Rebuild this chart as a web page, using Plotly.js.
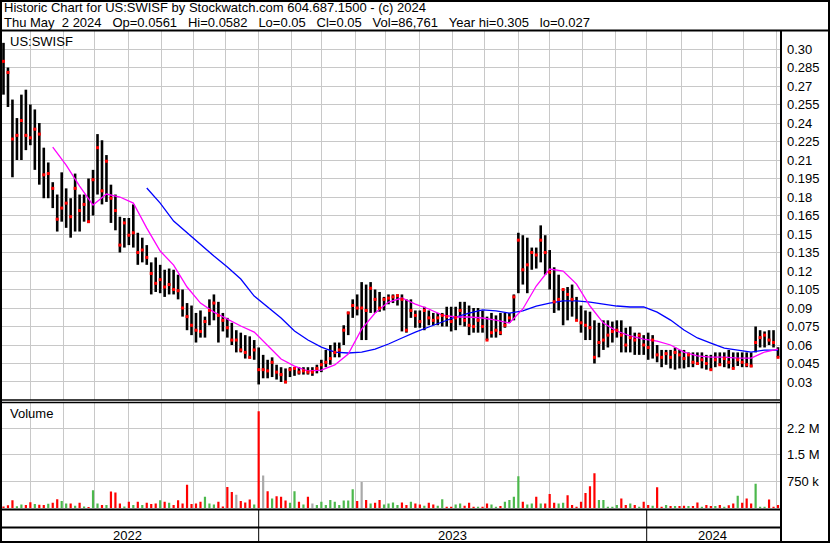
<!DOCTYPE html>
<html>
<head>
<meta charset="utf-8">
<script src="https://cdn.plot.ly/plotly-3.0.1.min.js"></script>
<style>
html,body{margin:0;padding:0;background:#fff;}
#chart{width:830px;height:543px;}
</style>
</head>
<body>
<div id="chart"></div>
<script>
// ---- Data (one bar every 3 trading days, May 6 2022 -> May 2 2024) ----
const firstSession = '2022-05-06';
const sessionStep = 3;

const high = [
0.305,0.285,0.259,0.244,0.263,0.267,0.255,0.251,0.240,0.220,
0.208,0.192,0.182,0.200,0.187,0.179,0.199,0.182,0.182,0.195,
0.202,0.231,0.226,0.214,0.190,0.182,0.164,0.163,0.163,0.174,
0.151,0.147,0.141,0.127,0.131,0.125,0.121,0.122,0.121,0.117,
0.105,0.094,0.092,0.086,0.088,0.083,0.097,0.101,0.095,0.086,
0.082,0.078,0.072,0.070,0.068,0.067,0.064,0.058,0.052,0.048,
0.050,0.044,0.042,0.041,0.042,0.042,0.042,0.042,0.042,0.042,
0.044,0.048,0.056,0.060,0.062,0.062,0.076,0.087,0.097,0.101,
0.111,0.109,0.111,0.105,0.103,0.099,0.101,0.101,0.101,0.101,
0.097,0.097,0.088,0.088,0.091,0.088,0.086,0.086,0.086,0.091,
0.091,0.091,0.095,0.095,0.092,0.090,0.090,0.088,0.083,0.086,
0.084,0.086,0.086,0.086,0.101,0.151,0.149,0.147,0.139,0.139,
0.157,0.149,0.137,0.123,0.117,0.105,0.107,0.109,0.099,0.092,
0.088,0.087,0.080,0.078,0.080,0.080,0.079,0.080,0.080,0.074,
0.075,0.070,0.070,0.068,0.070,0.068,0.060,0.056,0.056,0.056,
0.058,0.056,0.056,0.054,0.054,0.054,0.054,0.052,0.052,0.054,
0.054,0.054,0.056,0.054,0.054,0.054,0.054,0.054,0.075,0.072,
0.071,0.072,0.072,0.0582];

const low = [
0.263,0.253,0.196,0.210,0.210,0.218,0.222,0.202,0.190,0.179,
0.179,0.171,0.152,0.160,0.155,0.147,0.152,0.152,0.160,0.159,
0.165,0.182,0.174,0.176,0.159,0.153,0.135,0.139,0.141,0.139,
0.125,0.127,0.125,0.101,0.103,0.102,0.099,0.101,0.101,0.097,
0.083,0.072,0.068,0.062,0.066,0.066,0.076,0.080,0.062,0.071,
0.066,0.060,0.054,0.054,0.049,0.049,0.048,0.028,0.033,0.033,
0.034,0.032,0.030,0.029,0.034,0.035,0.036,0.036,0.036,0.035,
0.037,0.038,0.042,0.044,0.050,0.050,0.060,0.068,0.082,0.084,
0.064,0.064,0.086,0.086,0.087,0.088,0.093,0.094,0.092,0.071,
0.070,0.082,0.074,0.074,0.072,0.076,0.076,0.076,0.075,0.075,
0.071,0.072,0.076,0.075,0.068,0.070,0.070,0.070,0.064,0.066,
0.066,0.068,0.074,0.078,0.080,0.102,0.109,0.102,0.121,0.122,
0.127,0.117,0.105,0.086,0.088,0.076,0.080,0.083,0.080,0.070,
0.064,0.064,0.045,0.050,0.056,0.058,0.062,0.066,0.054,0.054,
0.054,0.052,0.052,0.052,0.048,0.049,0.046,0.042,0.044,0.041,
0.040,0.041,0.041,0.042,0.042,0.044,0.041,0.040,0.040,0.042,
0.044,0.042,0.041,0.041,0.043,0.042,0.042,0.042,0.054,0.058,
0.058,0.060,0.058,0.050];

const close = [
0.290,0.281,0.227,0.230,0.242,0.230,0.228,0.235,0.231,0.198,
0.199,0.187,0.162,0.171,0.175,0.164,0.187,0.169,0.174,0.160,
0.194,0.220,0.185,0.209,0.179,0.169,0.141,0.159,0.149,0.151,
0.135,0.137,0.131,0.118,0.110,0.113,0.107,0.109,0.105,0.104,
0.090,0.083,0.076,0.072,0.071,0.079,0.088,0.094,0.084,0.080,
0.074,0.064,0.064,0.056,0.054,0.050,0.056,0.040,0.040,0.039,
0.046,0.038,0.036,0.030,0.040,0.041,0.038,0.039,0.038,0.038,
0.041,0.044,0.046,0.049,0.054,0.056,0.072,0.086,0.092,0.090,
0.090,0.088,0.106,0.097,0.090,0.097,0.098,0.099,0.100,0.097,
0.072,0.088,0.084,0.079,0.088,0.082,0.080,0.082,0.084,0.083,
0.079,0.082,0.088,0.080,0.076,0.075,0.080,0.075,0.064,0.070,
0.072,0.070,0.076,0.082,0.099,0.145,0.121,0.125,0.135,0.133,
0.145,0.135,0.119,0.095,0.097,0.105,0.101,0.097,0.080,0.078,
0.076,0.074,0.050,0.062,0.064,0.068,0.071,0.072,0.068,0.060,
0.066,0.064,0.068,0.060,0.058,0.064,0.052,0.050,0.053,0.050,
0.054,0.052,0.049,0.052,0.046,0.045,0.048,0.045,0.040,0.048,
0.044,0.049,0.046,0.041,0.048,0.046,0.044,0.043,0.062,0.066,
0.068,0.064,0.062,0.05];

const volume = [
40000,80000,220000,50000,100000,83000,160000,110000,90000,83000,
120000,150000,250000,195000,130000,130000,60000,150000,40000,30000,
500000,130000,83000,83000,463000,435000,130000,40000,175000,83000,
175000,83000,148000,110000,130000,220000,175000,148000,83000,220000,
130000,657000,110000,130000,175000,315000,130000,102000,175000,40000,
593000,454000,370000,194000,157000,240000,102000,2730000,917000,472000,
269000,333000,315000,213000,148000,472000,176000,102000,315000,130000,
83000,176000,83000,222000,176000,83000,213000,213000,528000,194000,
731000,222000,130000,148000,222000,102000,130000,157000,83000,157000,
83000,176000,130000,102000,60000,148000,102000,60000,250000,37000,
37000,102000,130000,60000,148000,37000,37000,37000,130000,102000,
37000,56000,176000,222000,315000,898000,176000,102000,130000,315000,
130000,130000,398000,148000,130000,148000,361000,83000,37000,176000,
426000,611000,981000,222000,222000,37000,37000,83000,269000,83000,
130000,83000,37000,176000,83000,60000,583000,37000,83000,56000,
56000,56000,65000,56000,56000,157000,37000,83000,56000,56000,
83000,37000,80000,130000,343000,148000,269000,130000,685000,37000,
37000,240000,37000,86761];

// moving averages, one value every 3rd bar starting at bar 8
const maFirstBar = 8, maStep = 3;
const maShort = [null,
0.2205,0.2059,0.1889,0.1735,0.1824,0.1800,0.1751,0.1548,0.1362,0.1248,
0.1070,0.0940,0.0867,0.0811,0.0754,0.0705,0.0592,0.0486,0.0429,0.0389,
0.0397,0.0438,0.0527,0.0729,0.0859,0.0948,0.0981,0.0932,0.0892,0.0843,
0.0827,0.0827,0.0819,0.0802,0.0778,0.0892,0.1078,0.1216,0.1200,0.1094,
0.0916,0.0778,0.0713,0.0673,0.0648,0.0632,0.0600,0.0543,0.0511,0.0502,
0.0502,0.0494,0.0494,0.0543,0.0567];
const maLong = [null,null,null,null,null,null,null,null,
0.1873,0.1751,0.1605,0.1508,0.1419,0.1321,0.1232,0.1135,0.0997,0.0908,
0.0819,0.0713,0.0640,0.0583,0.0543,0.0535,0.0543,0.0567,0.0608,0.0657,
0.0705,0.0746,0.0786,0.0827,0.0859,0.0884,0.0876,0.0859,0.0876,0.0916,
0.0940,0.0957,0.0957,0.0948,0.0932,0.0916,0.0908,0.0908,0.0867,0.0802,
0.0721,0.0657,0.0616,0.0575,0.0559,0.0543,0.0559,0.0559];

const priceTicks = [0.03,0.045,0.06,0.075,0.09,0.105,0.12,0.135,0.15,0.165,0.18,0.195,0.21,0.225,0.24,0.255,0.27,0.285,0.30];
const priceTickText = ['0.03','0.045','0.06','0.075','0.09','0.105','0.12','0.135','0.15','0.165','0.18','0.195','0.21','0.225','0.24','0.255','0.27','0.285','0.30'];
const volTicks = [750000,1500000,2250000];
const volTickText = ['750 k','1.5 M','2.2 M'];
const yearLabels = ['2022','2023','2024'];
const yearLabelDates = ['2022-08-31','2023-07-03','2024-03-01'];
const yearStarts = ['2023-01-02','2024-01-01'];

const headerLine1 = 'Historic Chart for US:SWISF by Stockwatch.com 604.687.1500 - (c) 2024';
const headerLine2 = 'Thu May  2 2024   Op=0.0561   Hi=0.0582   Lo=0.05   Cl=0.05   Vol=86,761   Year hi=0.305   lo=0.027';

// ---- helpers ----
function iso(d){ return d.toISOString().slice(0,10); }
function addWeekdays(d, n){
  const r = new Date(d.getTime()); let c = 0;
  while (c < n){ r.setUTCDate(r.getUTCDate()+1); const w = r.getUTCDay(); if (w !== 0 && w !== 6) c++; }
  return r;
}
const dates = [];
{ let d = new Date(firstSession + 'T00:00:00Z');
  for (let i = 0; i < close.length; i++){ dates.push(iso(d)); d = addWeekdays(d, sessionStep); } }

const monthTicks = [];
for (let i = 0; i < 24; i++){
  const mi = 5 + i;
  const d = new Date(Date.UTC(2022 + Math.floor(mi/12), mi % 12, 1));
  while (d.getUTCDay() === 0 || d.getUTCDay() === 6) d.setUTCDate(d.getUTCDate()+1);
  monthTicks.push(iso(d));
}

// price high-low bars
const barX = [], barY = [];
for (let k = 0; k < dates.length; k++){ barX.push(dates[k], dates[k], null); barY.push(low[k], high[k], null); }

// volume bars by direction
const vUp = {x:[],y:[]}, vDn = {x:[],y:[]}, vEq = {x:[],y:[]};
for (let k = 0; k < dates.length; k++){
  const prev = k === 0 ? Infinity : close[k-1];
  const g = close[k] > prev ? vUp : (close[k] < prev ? vDn : vEq);
  g.x.push(dates[k], dates[k], null); g.y.push(0, volume[k], null);
}
const maX = maShort.map((_, i) => dates[maFirstBar + maStep*i]);

const FONT = '"Liberation Sans", Arial, Helvetica, sans-serif';
const volLine = (g, color) => ({type:'scatter', mode:'lines', x:g.x, y:g.y, xaxis:'x', yaxis:'y2',
  line:{color:color, width:2.2}, connectgaps:false, hoverinfo:'skip'});

const traces = [
  volLine(vEq, '#a9a9a9'),
  volLine(vUp, '#4cb84c'),
  volLine(vDn, '#ff0000'),
  {type:'scatter', mode:'lines', x:barX, y:barY, xaxis:'x', yaxis:'y', line:{color:'#000', width:2.6}, connectgaps:false},
  {type:'scatter', mode:'lines', x:maX, y:maLong, xaxis:'x', yaxis:'y', line:{color:'#0000ff', width:1.3}},
  {type:'scatter', mode:'lines', x:maX, y:maShort, xaxis:'x', yaxis:'y', line:{color:'#ff00ff', width:1.3}},
  {type:'scatter', mode:'markers', x:dates, y:close, xaxis:'x', yaxis:'y', marker:{symbol:'square', size:3, color:'#ff0000', line:{width:0}}}
];

// ---- layout geometry ----
const L = 2, R = 780, T = 31, B = 508;
const px = x => (x - L) / (R - L);
const py = y => (B - y) / (B - T);
const hl = (y, x0, x1, w) => ({type:'line', xref:'paper', yref:'paper', x0:px(x0), x1:px(x1), y0:py(y), y1:py(y), line:{color:'#000', width:w}});
const vl = (x, y0, y1, w) => ({type:'line', xref:'paper', yref:'paper', x0:px(x), x1:px(x), y0:py(y0), y1:py(y1), line:{color:'#000', width:w}});

const shapes = [
  hl(1, 0, 830, 2), hl(30.5, 0, 830, 2),
  hl(400, 0, 781, 1.3), hl(402.5, 0, 781, 1.3),
  hl(509.5, 0, 781, 2), hl(527.5, 0, 781, 2), hl(542, 0, 830, 2),
  vl(1, 0, 543, 2), vl(829, 0, 543, 2), vl(781, 30, 543, 2)
];
yearStarts.forEach(d => shapes.push({type:'line', xref:'x', yref:'paper', x0:d, x1:d, y0:py(509.5), y1:py(542), line:{color:'#000', width:1}}));

const annotations = [
  {text:headerLine1, xref:'paper', yref:'paper', x:px(2), y:py(8), xanchor:'left', yanchor:'middle', showarrow:false, font:{family:FONT, size:13, color:'#000'}},
  {text:headerLine2.replace(/ /g, '\u00a0'), xref:'paper', yref:'paper', x:px(2), y:py(22), xanchor:'left', yanchor:'middle', showarrow:false, font:{family:FONT, size:13, color:'#000'}},
  {text:'US:SWISF', xref:'paper', yref:'paper', x:px(8), y:py(42), xanchor:'left', yanchor:'middle', showarrow:false, font:{family:FONT, size:13, color:'#000'}},
  {text:'Volume', xref:'paper', yref:'paper', x:px(8), y:py(413), xanchor:'left', yanchor:'middle', showarrow:false, font:{family:FONT, size:13, color:'#000'}}
];
yearLabels.forEach((t, i) => annotations.push({text:t, xref:'x', yref:'paper', x:yearLabelDates[i], y:py(535), xanchor:'center', yanchor:'middle', showarrow:false, font:{family:FONT, size:13, color:'#000'}}));

const layout = {
  width:830, height:543,
  margin:{l:L, r:830-R, t:T, b:543-B, pad:0},
  paper_bgcolor:'#fff', plot_bgcolor:'#fff', showlegend:false, hovermode:false,
  font:{family:FONT, size:13, color:'#000'},
  xaxis:{type:'date', range:['2022-05-05','2024-05-03 08:00'], rangebreaks:[{bounds:['sat','mon']}],
    tickmode:'array', tickvals:monthTicks, showticklabels:false, ticks:'',
    showgrid:true, gridcolor:'#c8c8c8', gridwidth:1, zeroline:false, showline:false, anchor:'y2'},
  yaxis:{domain:[py(400), 1], range:[0.0154, 0.3146], side:'right', anchor:'x',
    tickmode:'array', tickvals:priceTicks, ticktext:priceTickText, ticks:'', ticklabelstandoff:6,
    showgrid:true, gridcolor:'#c8c8c8', gridwidth:1, zeroline:false, showline:false,
    tickfont:{family:FONT, size:13, color:'#000'}},
  yaxis2:{domain:[0, py(402.5)], range:[0, 2974000], side:'right', anchor:'x',
    tickmode:'array', tickvals:volTicks, ticktext:volTickText, ticks:'', ticklabelstandoff:6,
    showgrid:true, gridcolor:'#c8c8c8', gridwidth:1, zeroline:false, showline:false,
    tickfont:{family:FONT, size:13, color:'#000'}},
  shapes:shapes, annotations:annotations
};

Plotly.newPlot('chart', traces, layout, {staticPlot:true, displayModeBar:false});
</script>
</body>
</html>
